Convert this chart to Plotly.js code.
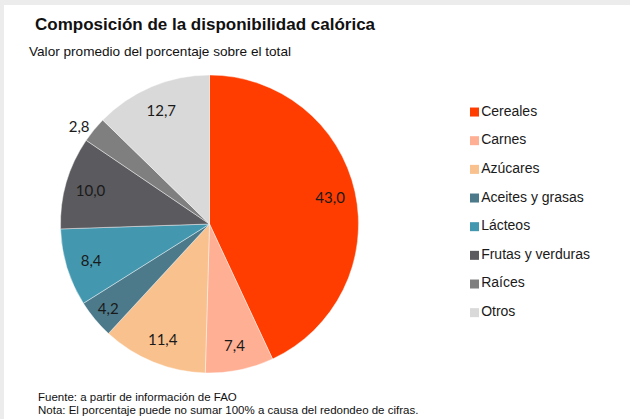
<!DOCTYPE html>
<html>
<head>
<meta charset="utf-8">
<script src="https://cdn.plot.ly/plotly-3.0.1.min.js"></script>
<style>html,body{margin:0;padding:0;background:#fff;}#chart{width:630px;height:419px;}</style>
</head>
<body>
<div id="chart"></div>
<script>
var categories = ["Cereales", "Carnes", "Azúcares", "Aceites y grasas", "Lácteos", "Frutas y verduras", "Raíces", "Otros"];
var values = [43.0, 7.4, 11.4, 4.2, 8.4, 10.0, 2.8, 12.7];
var colors = ["#FF3D00", "#FFAF94", "#F9C18E", "#4D7A8A", "#4398B0", "#5B5A5F", "#7F7F7F", "#D9D9D9"];
var labelPositions = ["inside", "inside", "inside", "inside", "inside", "inside", "outside", "inside"];

var titleText = "Composición de la disponibilidad calórica";
var subtitleText = "Valor promedio del porcentaje sobre el total";
var sourceText = "Fuente: a partir de información de FAO";
var noteText = "Nota: El porcentaje puede no sumar 100% a causa del redondeo de cifras.";

var sans = "'Liberation Sans', Arial, sans-serif";
var W = 630, H = 419;
function px(x) { return x / W; }
function py(y) { return 1 - y / H; }

var labelsText = values.map(function (v) { return v.toFixed(1).replace('.', ','); });
var pieDomain = { x: [px(60.5), px(358.5)], y: [py(373), py(75)] };
var labelFont = { family: 'Lato, Carlito, Calibri, sans-serif', size: 15, color: '#1a1a1a' };

var pie = {
  type: 'pie',
  labels: categories,
  values: values,
  textinfo: 'none',
  sort: false,
  direction: 'clockwise',
  rotation: 0,
  automargin: false,
  showlegend: false,
  hoverinfo: 'label+value',
  marker: { colors: colors, line: { color: 'rgba(255,255,255,0.7)', width: 0.6 } },
  domain: pieDomain
};

// transparent ring carrying the value labels near the rim
var labelRing = {
  type: 'pie',
  labels: categories,
  values: values,
  text: labelsText,
  textinfo: 'text',
  textposition: labelPositions,
  insidetextorientation: 'horizontal',
  hole: 0.66,
  sort: false,
  direction: 'clockwise',
  rotation: 0,
  automargin: false,
  showlegend: false,
  hoverinfo: 'skip',
  marker: { colors: categories.map(function () { return 'rgba(0,0,0,0)'; }), line: { width: 0 } },
  textfont: labelFont,
  insidetextfont: labelFont,
  outsidetextfont: labelFont,
  domain: pieDomain
};

var legendTrace = {
  type: 'scatter',
  mode: 'markers+text',
  x: categories.map(function () { return 0; }),
  y: categories,
  text: categories,
  textposition: 'middle right',
  cliponaxis: false,
  hoverinfo: 'skip',
  showlegend: false,
  marker: { symbol: 'square', size: 9, color: colors, line: { width: 0 } },
  textfont: { family: sans, size: 14, color: '#1a1a1a' },
  xaxis: 'x', yaxis: 'y'
};

var layout = {
  width: W, height: H,
  margin: { l: 0, r: 0, t: 0, b: 0 },
  paper_bgcolor: '#ffffff',
  plot_bgcolor: 'rgba(0,0,0,0)',
  showlegend: false,
  xaxis: { domain: [px(474.5), 1], range: [0, 1], visible: false, fixedrange: true },
  yaxis: { domain: [py(327), py(97.7)], type: 'category', range: [7.5, -0.5], visible: false, fixedrange: true },
  shapes: [
    { type: 'rect', xref: 'paper', yref: 'paper', x0: 0, x1: 1, y0: py(5), y1: 1, fillcolor: '#ececec', line: { width: 0 }, layer: 'below' },
    { type: 'rect', xref: 'paper', yref: 'paper', x0: 0, x1: px(4), y0: 0, y1: 1, fillcolor: '#ececec', line: { width: 0 }, layer: 'below' }
  ],
  annotations: [
    { text: '<b>' + titleText + '</b>', xref: 'paper', yref: 'paper', x: px(33), y: py(24.8), xanchor: 'left', yanchor: 'middle', showarrow: false, font: { family: sans, size: 17, color: '#111' } },
    { text: subtitleText, xref: 'paper', yref: 'paper', x: px(27), y: py(51.8), xanchor: 'left', yanchor: 'middle', showarrow: false, font: { family: sans, size: 13.6, color: '#111' } },
    { text: sourceText, xref: 'paper', yref: 'paper', x: px(37), y: py(396.6), xanchor: 'left', yanchor: 'middle', showarrow: false, font: { family: sans, size: 11.5, color: '#111' }, borderpad: 0 },
    { text: noteText, xref: 'paper', yref: 'paper', x: px(37), y: py(410.2), xanchor: 'left', yanchor: 'middle', showarrow: false, font: { family: sans, size: 11.5, color: '#111' }, borderpad: 0 }
  ]
};

Plotly.newPlot('chart', [pie, labelRing, legendTrace], layout, { displayModeBar: false, staticPlot: true });
</script>
</body>
</html>
